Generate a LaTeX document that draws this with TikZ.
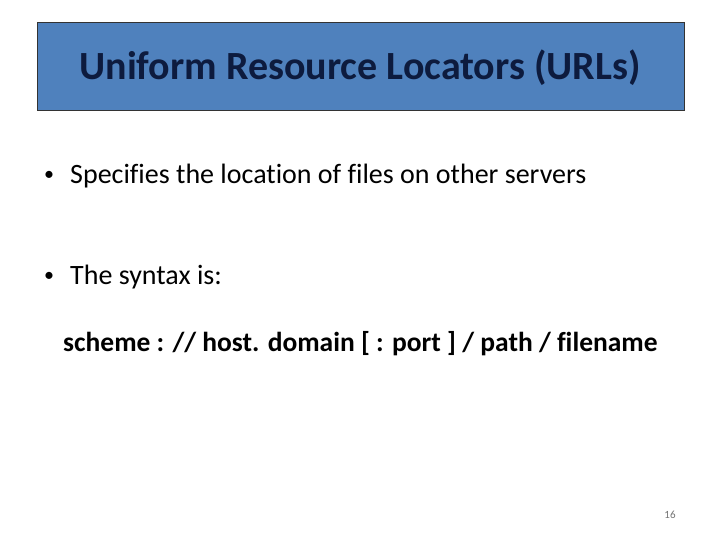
\documentclass[tikz,border=0pt]{standalone}
\usepackage{fontspec}
\setmainfont{Carlito}[Ligatures=NoCommon]
\definecolor{titleblue}{HTML}{4F81BD}
\definecolor{titletext}{HTML}{0D1B3E}
\begin{document}
\begin{tikzpicture}[x=1pt,y=-1pt,
  txt/.style={anchor=west,inner sep=0pt,font=\fontsize{28}{32}\selectfont}]
\useasboundingbox (0,0) rectangle (720,540);
\node[draw=black!80,fill=titleblue,line width=0.8pt,minimum width=647pt,minimum height=88pt,anchor=north west,inner sep=0pt] (title) at (37,22) {};
\node[inner sep=0pt,font=\fontsize{40}{44}\bfseries\selectfont,text=titletext] (tt) at (360,68) {Uniform Resource Locators (URLs)};
\node[inner sep=0pt,font=\fontsize{20}{24}\selectfont] (d1) at (49,176) {•};
\node[txt] (b1) at (70,176) {Specifies the location of files on other servers};
\node[inner sep=0pt,font=\fontsize{20}{24}\selectfont] (d2) at (49,277) {•};
\node[txt] (b2) at (70,277) {The syntax is:};
\node[txt,font=\fontsize{27.5}{32}\bfseries\selectfont] (syn) at (63,344) {scheme : // host. domain [ : port ] / path / filename};
\node[inner sep=0pt,font=\fontsize{11}{13}\selectfont,text=black!55] (pg) at (670,515) {16};
\end{tikzpicture}
\end{document}
